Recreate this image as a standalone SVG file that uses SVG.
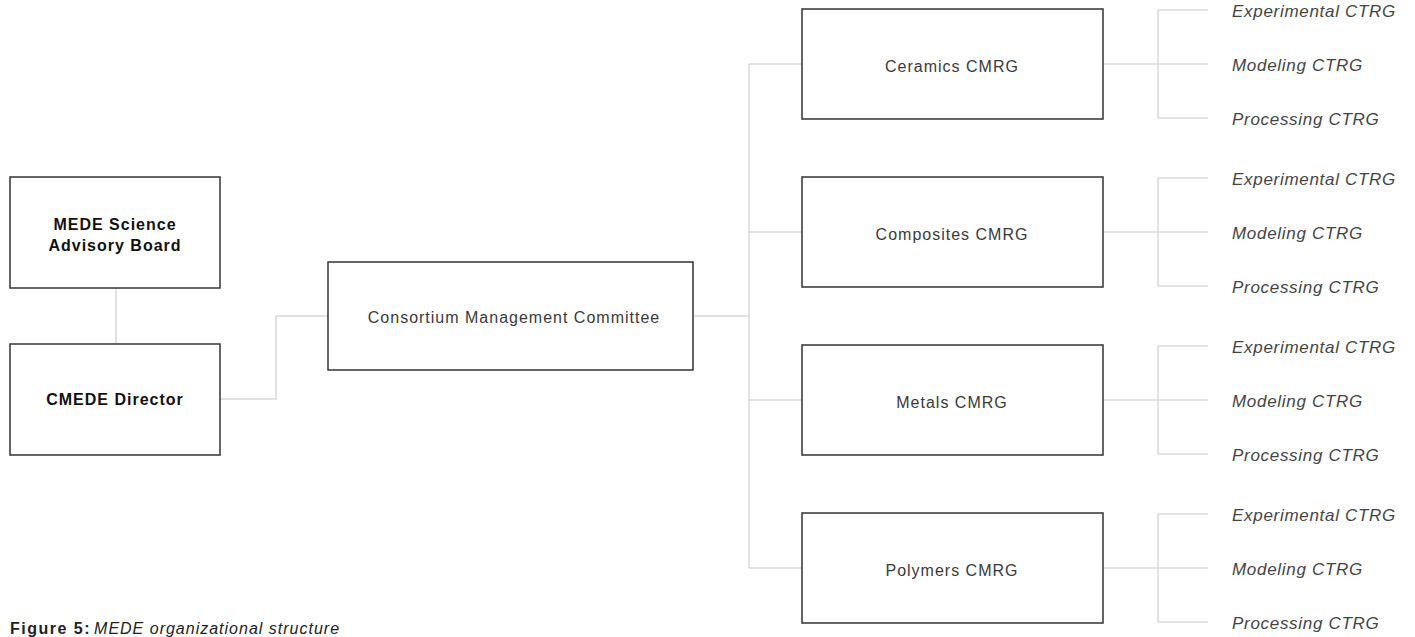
<svg xmlns="http://www.w3.org/2000/svg" width="1415" height="637" viewBox="0 0 1415 637">
<style>
.box{fill:#fff;stroke:#333;stroke-width:1.5}
.con{fill:none;stroke:#d9d9d9;stroke-width:1.5}
.lbl{font-family:"Liberation Sans",Arial,sans-serif;font-size:16px;fill:#3a3a3a;text-anchor:middle;letter-spacing:1px}
.bold{font-family:"Liberation Sans",Arial,sans-serif;font-size:16px;fill:#111;font-weight:bold;text-anchor:middle;letter-spacing:1px}
.ctrg{font-family:"Liberation Sans",Arial,sans-serif;font-size:17px;fill:#444;font-style:italic;letter-spacing:0.7px}
.cap{font-family:"Liberation Sans",Arial,sans-serif;font-size:16px;fill:#222}
</style>
<rect width="1415" height="637" fill="#fff"/>
<g id="connectors">
<path class="con" d="M116 288V343"/>
<path class="con" d="M220 399H276V316H328"/>
<path class="con" d="M693 316H749"/>
<path class="con" d="M749 64V568"/>
<path class="con" d="M749 64H802M749 232H802M749 400H802M749 568H802"/>
<path class="con" d="M1103 64H1158M1158 10V118M1158 10H1208M1158 64H1208M1158 118H1208"/>
<path class="con" d="M1103 232H1158M1158 178V286M1158 178H1208M1158 232H1208M1158 286H1208"/>
<path class="con" d="M1103 400H1158M1158 346V454M1158 346H1208M1158 400H1208M1158 454H1208"/>
<path class="con" d="M1103 568H1158M1158 514V622M1158 514H1208M1158 568H1208M1158 622H1208"/>
</g>
<g id="board"><rect class="box" x="10" y="177" width="210" height="111"/><text class="bold" x="115" y="230">MEDE Science</text><text class="bold" x="115" y="251">Advisory Board</text></g>
<g id="director"><rect class="box" x="10" y="344" width="210" height="111"/><text class="bold" x="115" y="405">CMEDE Director</text></g>
<g id="cmc"><rect class="box" x="328" y="262" width="365" height="108"/><text class="lbl" x="514" y="323">Consortium Management Committee</text></g>
<g id="ceramics"><rect class="box" x="802" y="9" width="301" height="110"/><text class="lbl" x="952" y="72">Ceramics CMRG</text></g>
<g id="composites"><rect class="box" x="802" y="177" width="301" height="110"/><text class="lbl" x="952" y="240">Composites CMRG</text></g>
<g id="metals"><rect class="box" x="802" y="345" width="301" height="110"/><text class="lbl" x="952" y="408">Metals CMRG</text></g>
<g id="polymers"><rect class="box" x="802" y="513" width="301" height="110"/><text class="lbl" x="952" y="576">Polymers CMRG</text></g>
<g id="ceramics-ctrg"><text class="ctrg" x="1232" y="17">Experimental CTRG</text><text class="ctrg" x="1232" y="71">Modeling CTRG</text><text class="ctrg" x="1232" y="125">Processing CTRG</text></g>
<g id="composites-ctrg"><text class="ctrg" x="1232" y="185">Experimental CTRG</text><text class="ctrg" x="1232" y="239">Modeling CTRG</text><text class="ctrg" x="1232" y="293">Processing CTRG</text></g>
<g id="metals-ctrg"><text class="ctrg" x="1232" y="353">Experimental CTRG</text><text class="ctrg" x="1232" y="407">Modeling CTRG</text><text class="ctrg" x="1232" y="461">Processing CTRG</text></g>
<g id="polymers-ctrg"><text class="ctrg" x="1232" y="521">Experimental CTRG</text><text class="ctrg" x="1232" y="575">Modeling CTRG</text><text class="ctrg" x="1232" y="629">Processing CTRG</text></g>
<g id="caption"><text class="cap" x="10" y="634"><tspan font-weight="bold" letter-spacing="1.5px">Figure 5:</tspan><tspan font-style="italic" letter-spacing="1px" dx="3">MEDE organizational structure</tspan></text></g>
</svg>
